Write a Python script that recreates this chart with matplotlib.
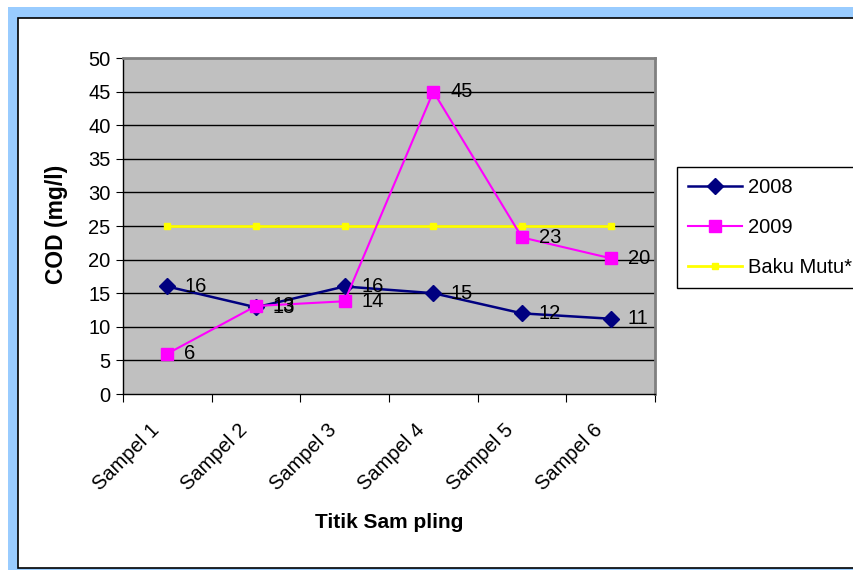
import matplotlib
matplotlib.use("Agg")
import matplotlib.pyplot as plt
from matplotlib.patches import Rectangle
from matplotlib.lines import Line2D

categories = ["Sampel 1", "Sampel 2", "Sampel 3", "Sampel 4", "Sampel 5", "Sampel 6"]
s2008 = [16, 12.9, 16, 15, 12, 11.2]
s2009 = [6, 13.1, 13.8, 45, 23.3, 20.2]
lab2008 = ["16", "13", "16", "15", "12", "11"]
lab2009 = ["6", "13", "14", "45", "23", "20"]
baku = [25, 25, 25, 25, 25, 25]
yticks = list(range(0, 51, 5))

plt.rcParams['font.family'] = ['Liberation Sans', 'DejaVu Sans']
W, H = 854, 574
FS = 14.5
fig = plt.figure(figsize=(W/100, H/100), dpi=100)
fig.patch.set_facecolor('white')

# outer frame
fig.add_artist(Rectangle((8/W, 4/H), 1.2, (574-7-4)/H, transform=fig.transFigure, facecolor='#99CCFF', edgecolor='none', zorder=-9))
fig.add_artist(Rectangle((18/W, (574-568)/H), 1.2, (568-18)/H, transform=fig.transFigure, facecolor='white', edgecolor='black', linewidth=1.2, zorder=-8))

x0, x1, yt, yb = 123, 655, 58, 394
ax = fig.add_axes([x0/W, (H-yb)/H, (x1-x0)/W, (yb-yt)/H])
ax.set_facecolor('#C0C0C0')
xs = list(range(len(categories)))
ax.set_xlim(-0.5, len(categories)-0.5)
ax.set_ylim(0, 50)
ax.set_yticks(yticks)
ax.set_yticklabels([str(v) for v in yticks], fontsize=FS)
for v in yticks[1:-1]:
    ax.axhline(v, color='black', linewidth=1.0, zorder=1)
ax.set_xticks([i-0.5 for i in range(len(categories)+1)])
ax.set_xticklabels([])
ax.tick_params(axis='x', length=6, direction='out', color='black')
ax.tick_params(axis='y', length=5, direction='out', color='black', pad=4)
for i, c in enumerate(categories):
    ax.annotate(c, (i, 0), xytext=(-18, -26), textcoords='offset pixels',
                rotation=45, ha='right', va='top', fontsize=FS, rotation_mode='anchor',
                annotation_clip=False)
for s in ['top', 'right']:
    ax.spines[s].set_color('#808080')
    ax.spines[s].set_linewidth(2)
for s in ['left', 'bottom']:
    ax.spines[s].set_color('black')
    ax.spines[s].set_linewidth(1)

ax.plot(xs, baku, color='#FFFF00', linewidth=2, marker='s', markersize=4, markeredgecolor='#FFFF00', zorder=3, label='Baku Mutu*')
ax.plot(xs, s2008, color='#000080', linewidth=1.8, marker='D', markersize=8, zorder=4, label='2008')
ax.plot(xs, s2009, color='#FF00FF', linewidth=1.5, marker='s', markersize=8, zorder=5, label='2009')

for i in xs:
    ax.annotate(lab2008[i], (i, s2008[i]), xytext=(17, 0), textcoords='offset pixels', ha='left', va='center', fontsize=FS, zorder=6)
    ax.annotate(lab2009[i], (i, s2009[i]), xytext=(17, 0), textcoords='offset pixels', ha='left', va='center', fontsize=FS, zorder=6)

fig.text(57/W, (H-224)/H, 'COD (mg/l)', rotation=90, ha='center', va='center', fontsize=16.5, fontweight='bold')
fig.text(389/W, (H-523)/H, 'Titik Sam pling', ha='center', va='center', fontsize=15, fontweight='bold')

handles = [Line2D([], [], color='#000080', linewidth=1.8, marker='D', markersize=8),
           Line2D([], [], color='#FF00FF', linewidth=1.5, marker='s', markersize=8),
           Line2D([], [], color='#FFFF00', linewidth=2, marker='s', markersize=4)]
leg = fig.legend(handles, ['2008', '2009', 'Baku Mutu*'], loc='upper left',
                 bbox_to_anchor=(677/W, (H-167)/H), fontsize=FS, frameon=True,
                 fancybox=False, edgecolor='black', framealpha=1, borderpad=0.55,
                 labelspacing=1.05, handlelength=2.7, handletextpad=0.3,
                 borderaxespad=0)
leg.get_frame().set_linewidth(1)

fig.savefig('out.png', dpi=100)
